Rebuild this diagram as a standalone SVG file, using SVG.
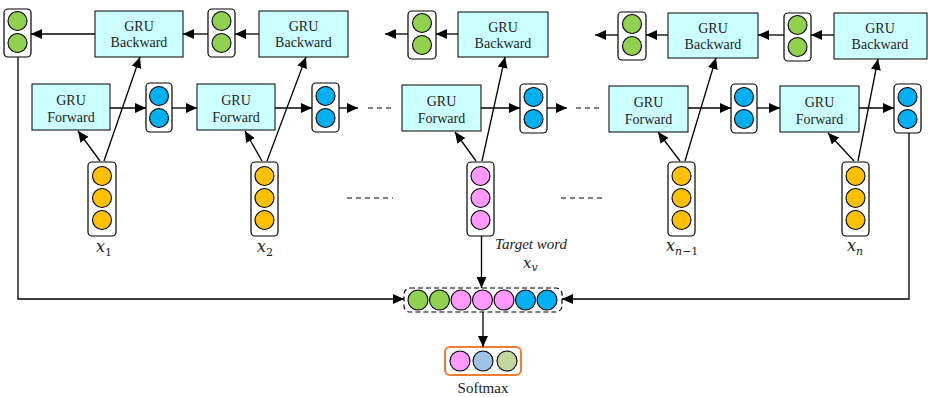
<svg xmlns="http://www.w3.org/2000/svg" width="928" height="397" viewBox="0 0 928 397">
  <defs>
    <marker id="arrow" markerUnits="userSpaceOnUse" markerWidth="12" markerHeight="10" refX="11" refY="5" orient="auto">
      <path d="M0,0 L11,5 L0,10 Z" fill="#000"/>
    </marker>
    <style>
      .gru { fill: #CCFFFF; stroke: #000; stroke-width: 1; }
      .vec { fill: #fff; stroke: #000; stroke-width: 1.2; }
      .lbl { font-family: "Liberation Serif", "Times New Roman", serif; font-size: 14px; fill: #222; text-anchor: middle; }
      .math { font-family: "DejaVu Serif", "Liberation Serif", serif; font-style: italic; font-size: 16px; fill: #222; }
      .sub { font-family: "DejaVu Serif", "Liberation Serif", serif; font-size: 11px; fill: #222; }
      .c { stroke: #000; stroke-width: 1.1; }
      .g { fill: #92D050; }
      .b { fill: #00B0F0; }
      .y { fill: #FFC000; }
      .p { fill: #FF99FF; }
      .edge { fill: none; stroke: #000; stroke-width: 1.3; }
      .arr { marker-end: url(#arrow); }
      .dash { fill: none; stroke: #000; stroke-width: 1.2; stroke-dasharray: 5 4; }
    </style>
  </defs>

  <rect width="928" height="397" fill="#fff"/>

  <!-- backward GRU cells -->
  <g id="bwd1"><rect class="gru" x="95" y="11" width="88" height="46"/><text class="lbl" x="139" y="31">GRU</text><text class="lbl" x="139" y="47">Backward</text></g>
  <g id="bwd2"><rect class="gru" x="259" y="11" width="89" height="46"/><text class="lbl" x="303.5" y="31">GRU</text><text class="lbl" x="303.5" y="47">Backward</text></g>
  <g id="bwd3"><rect class="gru" x="458" y="12" width="90" height="45"/><text class="lbl" x="503" y="32">GRU</text><text class="lbl" x="503" y="48">Backward</text></g>
  <g id="bwd4"><rect class="gru" x="668" y="13" width="90" height="45"/><text class="lbl" x="713" y="33">GRU</text><text class="lbl" x="713" y="49">Backward</text></g>
  <g id="bwd5"><rect class="gru" x="834" y="13" width="93" height="46"/><text class="lbl" x="880" y="33">GRU</text><text class="lbl" x="880" y="49">Backward</text></g>

  <!-- backward hidden states -->
  <g id="hb1"><rect class="vec" x="4" y="9" width="27" height="48" rx="4"/><circle class="c g" cx="17.5" cy="21" r="9.5"/><circle class="c g" cx="17.5" cy="43" r="9.5"/></g>
  <g id="hb2"><rect class="vec" x="208" y="9" width="27" height="48" rx="4"/><circle class="c g" cx="221.5" cy="21" r="9.5"/><circle class="c g" cx="221.5" cy="43" r="9.5"/></g>
  <g id="hb3"><rect class="vec" x="408" y="11" width="28" height="48" rx="4"/><circle class="c g" cx="422" cy="23" r="9.5"/><circle class="c g" cx="422" cy="45" r="9.5"/></g>
  <g id="hb4"><rect class="vec" x="618" y="12" width="28" height="48" rx="4"/><circle class="c g" cx="632" cy="24" r="9.5"/><circle class="c g" cx="632" cy="46" r="9.5"/></g>
  <g id="hb5"><rect class="vec" x="784" y="13" width="27" height="48" rx="4"/><circle class="c g" cx="797.5" cy="25" r="9.5"/><circle class="c g" cx="797.5" cy="47" r="9.5"/></g>

  <!-- forward GRU cells -->
  <g id="fwd1"><rect class="gru" x="32" y="84" width="78" height="46"/><text class="lbl" x="71" y="105">GRU</text><text class="lbl" x="71" y="122">Forward</text></g>
  <g id="fwd2"><rect class="gru" x="197" y="84" width="78" height="46"/><text class="lbl" x="236" y="105">GRU</text><text class="lbl" x="236" y="122">Forward</text></g>
  <g id="fwd3"><rect class="gru" x="402" y="85" width="79" height="46"/><text class="lbl" x="441.5" y="106">GRU</text><text class="lbl" x="441.5" y="123">Forward</text></g>
  <g id="fwd4"><rect class="gru" x="609" y="86" width="79" height="46"/><text class="lbl" x="648.5" y="107">GRU</text><text class="lbl" x="648.5" y="124">Forward</text></g>
  <g id="fwd5"><rect class="gru" x="780" y="86" width="79" height="46"/><text class="lbl" x="819.5" y="107">GRU</text><text class="lbl" x="819.5" y="124">Forward</text></g>

  <!-- forward hidden states -->
  <g id="hf1"><rect class="vec" x="146" y="83" width="26" height="49" rx="4"/><circle class="c b" cx="159" cy="96" r="9.5"/><circle class="c b" cx="159" cy="118" r="9.5"/></g>
  <g id="hf2"><rect class="vec" x="312" y="83" width="27" height="49" rx="4"/><circle class="c b" cx="325.5" cy="96" r="9.5"/><circle class="c b" cx="325.5" cy="118" r="9.5"/></g>
  <g id="hf3"><rect class="vec" x="520" y="84" width="27" height="49" rx="4"/><circle class="c b" cx="533.5" cy="97" r="9.5"/><circle class="c b" cx="533.5" cy="119" r="9.5"/></g>
  <g id="hf4"><rect class="vec" x="731" y="84" width="26" height="49" rx="4"/><circle class="c b" cx="744" cy="97" r="9.5"/><circle class="c b" cx="744" cy="119" r="9.5"/></g>
  <g id="hf5"><rect class="vec" x="894" y="84" width="27" height="49" rx="4"/><circle class="c b" cx="907.5" cy="97" r="9.5"/><circle class="c b" cx="907.5" cy="119" r="9.5"/></g>

  <!-- input word vectors -->
  <g id="x1"><rect class="vec" x="88" y="162" width="28" height="74" rx="4"/><circle class="c y" cx="102" cy="176" r="9.5"/><circle class="c y" cx="102" cy="198" r="9.5"/><circle class="c y" cx="102" cy="220" r="9.5"/>
    <text x="96" y="252"><tspan class="math">x</tspan><tspan class="sub" dy="4">1</tspan></text></g>
  <g id="x2"><rect class="vec" x="251" y="162" width="27" height="74" rx="4"/><circle class="c y" cx="264.5" cy="176" r="9.5"/><circle class="c y" cx="264.5" cy="198" r="9.5"/><circle class="c y" cx="264.5" cy="220" r="9.5"/>
    <text x="257" y="252"><tspan class="math">x</tspan><tspan class="sub" dy="4">2</tspan></text></g>
  <g id="xv"><rect class="vec" x="467" y="162" width="27" height="74" rx="4"/><circle class="c p" cx="480.5" cy="176" r="9.5"/><circle class="c p" cx="480.5" cy="198" r="9.5"/><circle class="c p" cx="480.5" cy="220" r="9.5"/>
    <text x="531" y="249" class="lbl" style="font-style:italic;font-size:15px">Target word</text>
    <text x="523" y="268"><tspan class="math" style="font-size:15px">x</tspan><tspan class="sub" style="font-style:italic" dy="3">v</tspan></text></g>
  <g id="xn1"><rect class="vec" x="668" y="162" width="27" height="74" rx="4"/><circle class="c y" cx="681.5" cy="176" r="9.5"/><circle class="c y" cx="681.5" cy="198" r="9.5"/><circle class="c y" cx="681.5" cy="220" r="9.5"/>
    <text x="666" y="251"><tspan class="math">x</tspan><tspan class="sub" dy="4"><tspan style="font-style:italic">n</tspan>−1</tspan></text></g>
  <g id="xn"><rect class="vec" x="842" y="162" width="27" height="74" rx="4"/><circle class="c y" cx="855.5" cy="176" r="9.5"/><circle class="c y" cx="855.5" cy="198" r="9.5"/><circle class="c y" cx="855.5" cy="220" r="9.5"/>
    <text x="847" y="251"><tspan class="math">x</tspan><tspan class="sub" style="font-style:italic" dy="4">n</tspan></text></g>

  <!-- concatenated representation -->
  <g id="concat"><rect x="404" y="288" width="158" height="24" rx="6" fill="#fff" stroke="#000" stroke-width="1.2" stroke-dasharray="5 3"/>
    <circle class="c g" cx="418" cy="300" r="10"/><circle class="c g" cx="439.5" cy="300" r="10"/>
    <circle class="c p" cx="461" cy="300" r="10"/><circle class="c p" cx="482.5" cy="300" r="10"/><circle class="c p" cx="504" cy="300" r="10"/>
    <circle class="c b" cx="525.5" cy="300" r="10"/><circle class="c b" cx="547" cy="300" r="10"/></g>

  <!-- softmax output -->
  <g id="softmax"><rect x="445" y="347" width="76" height="28" rx="5" fill="#fff" stroke="#ED7D31" stroke-width="2"/>
    <circle class="c" cx="460" cy="361" r="10" fill="#FF99FF"/><circle class="c" cx="483" cy="361" r="10" fill="#9DC3E6"/><circle class="c" cx="507" cy="361" r="10" fill="#C3D69B"/>
    <text class="lbl" x="483" y="393" style="font-size:15px">Softmax</text></g>

  <!-- connectors -->
  <g id="edges">
    <!-- backward chain -->
    <line class="edge arr" x1="95" y1="34" x2="31" y2="34"/>
    <line class="edge arr" x1="208" y1="34" x2="183" y2="34"/>
    <line class="edge arr" x1="259" y1="34" x2="235" y2="34"/>
    <line class="edge arr" x1="408" y1="34" x2="385" y2="34"/>
    <line class="edge arr" x1="458" y1="34" x2="436" y2="34"/>
    <line class="edge arr" x1="618" y1="35" x2="595" y2="35"/>
    <line class="edge arr" x1="668" y1="35" x2="646" y2="35"/>
    <line class="edge arr" x1="784" y1="35" x2="758" y2="35"/>
    <line class="edge arr" x1="834" y1="35" x2="811" y2="35"/>
    <!-- forward chain -->
    <line class="edge arr" x1="110" y1="108" x2="146" y2="108"/>
    <line class="edge arr" x1="172" y1="108" x2="197" y2="108"/>
    <line class="edge arr" x1="275" y1="108" x2="312" y2="108"/>
    <line class="edge arr" x1="339" y1="108" x2="358" y2="108"/>
    <line class="dash" x1="368" y1="108" x2="395" y2="108"/>
    <line class="edge arr" x1="481" y1="108" x2="520" y2="108"/>
    <line class="edge arr" x1="547" y1="108" x2="567" y2="108"/>
    <line class="dash" x1="576" y1="108" x2="603" y2="108"/>
    <line class="edge arr" x1="688" y1="108" x2="731" y2="108"/>
    <line class="edge arr" x1="757" y1="108" x2="780" y2="108"/>
    <line class="edge arr" x1="859" y1="108" x2="894" y2="108"/>
    <!-- inputs to forward cells -->
    <line class="edge arr" x1="100" y1="161" x2="78" y2="131"/>
    <line class="edge arr" x1="262" y1="161" x2="245" y2="131"/>
    <line class="edge arr" x1="476" y1="161" x2="455" y2="132"/>
    <line class="edge arr" x1="680" y1="161" x2="658" y2="132"/>
    <line class="edge arr" x1="854" y1="161" x2="828" y2="133"/>
    <!-- inputs to backward cells -->
    <line class="edge arr" x1="104" y1="161" x2="140" y2="57"/>
    <line class="edge arr" x1="267" y1="161" x2="306" y2="57"/>
    <line class="edge arr" x1="482" y1="161" x2="505" y2="57"/>
    <line class="edge arr" x1="685" y1="161" x2="716" y2="58"/>
    <line class="edge arr" x1="858" y1="161" x2="878" y2="59"/>
    <!-- elided inputs -->
    <line class="dash" x1="347" y1="198" x2="393" y2="198"/>
    <line class="dash" x1="561" y1="198" x2="602" y2="198"/>
    <!-- final states into concatenation -->
    <polyline class="edge arr" points="18,57 18,299 404,299"/>
    <polyline class="edge arr" points="909,133 909,299 562,299"/>
    <line class="edge arr" x1="481.5" y1="236" x2="481.5" y2="288"/>
    <line class="edge arr" x1="483" y1="312" x2="483" y2="347"/>
  </g>
</svg>
